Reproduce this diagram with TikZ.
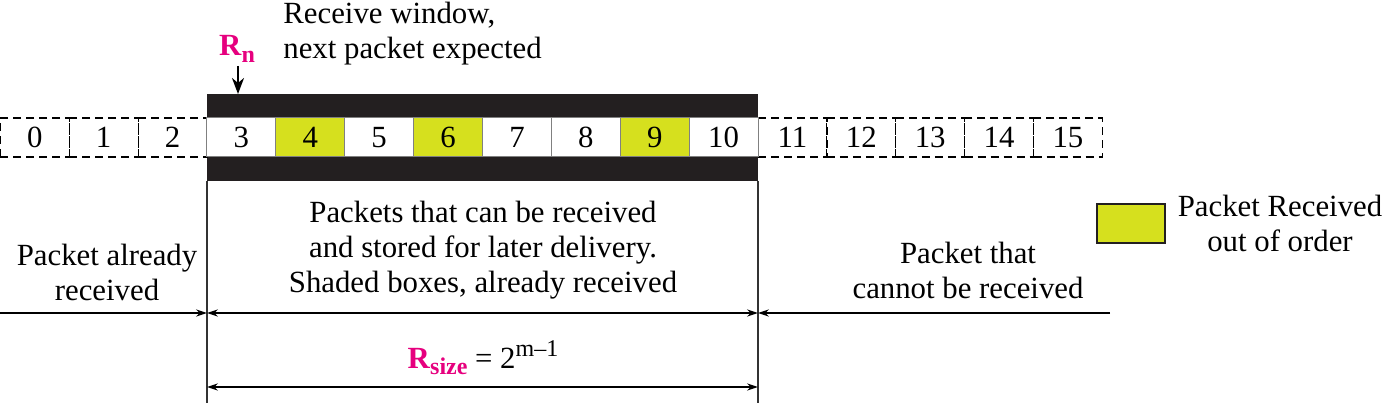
\documentclass[tikz,border=0pt]{standalone}
\usepackage{fontspec}
\setmainfont{Liberation Serif}
\usetikzlibrary{arrows.meta}
\definecolor{mag}{RGB}{230,0,126}
\definecolor{yel}{RGB}{214,224,30}
\definecolor{bandc}{RGB}{35,31,32}
\begin{document}
\begin{tikzpicture}[x=0.5pt,y=-0.5pt,
  cell/.style={minimum width=34.45pt, minimum height=19.5pt, inner sep=0, outer sep=0, font=\fontsize{15.4}{17.5}\selectfont},
  dcell/.style={cell, draw, dash pattern=on 4pt off 2.5pt, line width=0.6pt},
  wcell/.style={cell, draw=gray, fill=white, line width=0.5pt},
  ycell/.style={wcell, fill=yel},
  lbl/.style={align=center, font=\fontsize{15.4}{17.5}\selectfont, inner sep=0},
  mytip/.tip={Stealth[length=5.5pt,width=3.6pt]},
  bigtip/.tip={Stealth[length=8pt,width=6pt,inset=2.5pt]},
  arr/.style={-mytip, line width=0.6pt},
  darr/.style={mytip-mytip, line width=0.6pt},
  vline/.style={line width=0.7pt, draw=black!80},
]
\useasboundingbox (0,0) rectangle (1384,405);
% band
\node[fill=bandc, minimum width=275.5pt, minimum height=43.5pt, inner sep=0, outer sep=0] (band) at (482.5,137.5) {};
% cells
\foreach \i in {0,1,2,11,12,13,14,15}{
  \node[dcell] (b\i) at ({207+68.875*(\i-3)+34.44},137.5) {\i};
}
\foreach \i in {3,5,7,8,10}{
  \node[wcell] (b\i) at ({207+68.875*(\i-3)+34.44},137.5) {\i};
}
\foreach \i in {4,6,9}{
  \node[ycell] (b\i) at ({207+68.875*(\i-3)+34.44},137.5) {\i};
}
% Rn
\node[lbl, text=mag] (rn) at (237,49) {\textbf{R}\raisebox{-0.45ex}{\textbf{\fontsize{12}{14}\selectfont n}}};
\draw[-bigtip, line width=1pt] (238,66) coordinate (rntop) -- (rntop |- band.north);
\node[lbl, align=left, anchor=west] (rw) at (283,33.5) {Receive window,\\next packet expected};
% vertical lines
\coordinate (vl1) at (band.south west);
\coordinate (vl2) at (band.south east);
\coordinate (vl1b) at (207,403);
\coordinate (vl2b) at (758,403);
\draw[vline] (vl1) -- (vl1b);
\draw[vline] (vl2) -- (vl2b);
% arrows row
\coordinate (L) at (0,313);
\coordinate (R) at (1110,313);
\draw[arr] (L) -- (vl1 |- L);
\draw[darr] (vl1 |- L) -- (vl2 |- L);
\draw[arr] (R) -- (vl2 |- R);
\draw[darr] (207,387) coordinate (s1) -- (s1 -| vl2);
% texts
\node[lbl] (t1) at (107,272) {Packet already\\received};
\node[lbl] (t2) at (483,250) {Packets that can be received\\and stored for later delivery.\\Shaded boxes, already received};
\node[lbl] (t3) at (968,270) {Packet that\\cannot be received};
\node[lbl] (rs) at (483,358) {\textcolor{mag}{\textbf{R}\raisebox{-0.45ex}{\textbf{\fontsize{12}{14}\selectfont size}}} = 2\raisebox{0.85ex}{\fontsize{12}{14}\selectfont m–1}};
% legend
\node[draw=bandc, fill=yel, line width=0.8pt, minimum width=34pt, minimum height=19.5pt, inner sep=0] (leg) at (1131,223.5) {};
\node[lbl] (legt) at (1280,223) {Packet Received\\out of order};
\end{tikzpicture}
\end{document}
